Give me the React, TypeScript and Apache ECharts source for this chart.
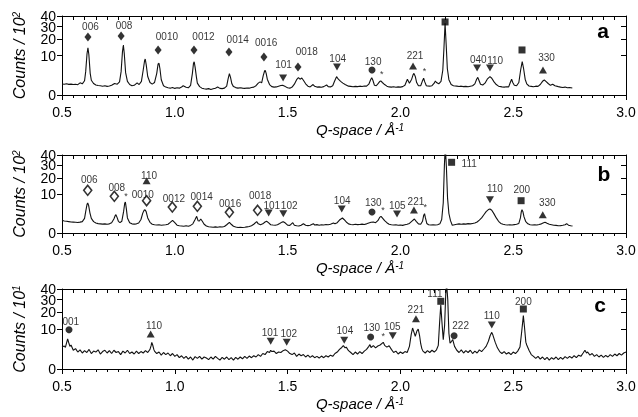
import React, { useEffect, useRef } from 'react';
import * as echarts from 'echarts';

const FONT = '"Liberation Sans", Arial, Helvetica, sans-serif';

// y tick values (counts, shown on a square-root scale)
const yTickValues = [0, 10, 20, 30, 40];
const yLabelSetA = [0, 10, 30];
const yLabelSetB = [20, 40];
const qMin = 0.5;
const qMax = 3.0;
const qStep = 0.5;

// ---- Panel a : [Q, counts / 10^2]
const spectrumA: [number, number][] = [
  [0.50, 0.78], [0.51, 0.74], [0.52, 0.80], [0.53, 0.72], [0.54, 0.76], [0.55, 0.70], [0.56, 0.74], [0.57, 0.68],
  [0.58, 0.95], [0.59, 0.80], [0.60, 1.3], [0.605, 3.5], [0.611, 11.0], [0.615, 14.3], [0.619, 10.5], [0.625, 3.0],
  [0.63, 1.4], [0.64, 0.85], [0.65, 0.64], [0.66, 0.58], [0.67, 0.55], [0.68, 0.50], [0.69, 0.55], [0.70, 0.48],
  [0.71, 0.52], [0.72, 0.60], [0.733, 0.85], [0.745, 0.75], [0.755, 1.1], [0.762, 3.5], [0.768, 12.0], [0.772, 16.0],
  [0.776, 11.0], [0.782, 3.2], [0.79, 1.2], [0.80, 0.70], [0.81, 0.55], [0.82, 0.60], [0.833, 0.95], [0.842, 0.70],
  [0.852, 1.2], [0.86, 4.0], [0.866, 7.5], [0.869, 8.3], [0.873, 6.0], [0.88, 2.2], [0.89, 1.0], [0.90, 0.75],
  [0.91, 1.0], [0.92, 3.0], [0.926, 6.2], [0.930, 6.44], [0.934, 4.5], [0.94, 1.5], [0.95, 0.55], [0.96, 0.40],
  [0.97, 0.33], [0.98, 0.30], [0.99, 0.36], [1.00, 0.28], [1.01, 0.33], [1.02, 0.30], [1.03, 0.40], [1.037, 0.55],
  [1.05, 0.38], [1.06, 0.33], [1.07, 0.60], [1.078, 3.0], [1.083, 6.5], [1.086, 7.1], [1.09, 5.0], [1.096, 2.0],
  [1.10, 0.90], [1.11, 0.45], [1.12, 0.30], [1.13, 0.25], [1.14, 0.22], [1.15, 0.26], [1.16, 0.20], [1.17, 0.25],
  [1.18, 0.30], [1.19, 0.40], [1.20, 0.28], [1.21, 0.26], [1.22, 0.30], [1.23, 0.50], [1.236, 1.6], [1.242, 2.9],
  [1.247, 2.0], [1.253, 0.8], [1.26, 0.45], [1.27, 0.35], [1.28, 0.30], [1.29, 0.34], [1.30, 0.30], [1.31, 0.28],
  [1.32, 0.32], [1.33, 0.30], [1.34, 0.36], [1.35, 0.40], [1.36, 0.55], [1.37, 0.90], [1.378, 1.10], [1.385, 0.95],
  [1.392, 2.4], [1.398, 3.7], [1.401, 3.9], [1.405, 3.0], [1.41, 1.6], [1.42, 0.70], [1.43, 0.45], [1.44, 0.40],
  [1.45, 0.42], [1.46, 0.50], [1.47, 0.58], [1.478, 0.60], [1.49, 0.45], [1.50, 0.33], [1.51, 0.30], [1.52, 0.40],
  [1.53, 0.75], [1.54, 1.5], [1.548, 1.92], [1.555, 1.6], [1.563, 1.85], [1.57, 1.4], [1.58, 0.80], [1.59, 0.50],
  [1.60, 0.42], [1.613, 0.70], [1.62, 0.48], [1.63, 0.40], [1.64, 0.42], [1.65, 0.38], [1.66, 0.45], [1.673, 0.64],
  [1.68, 0.45], [1.69, 0.42], [1.70, 0.55], [1.708, 1.2], [1.717, 2.15], [1.725, 1.6], [1.735, 1.2], [1.745, 0.9],
  [1.755, 0.7], [1.77, 0.50], [1.78, 0.48], [1.79, 0.44], [1.80, 0.48], [1.81, 0.45], [1.82, 0.50], [1.83, 0.46],
  [1.84, 0.52], [1.85, 0.50], [1.86, 0.75], [1.868, 1.5], [1.873, 1.92], [1.878, 1.4], [1.885, 0.6], [1.893, 0.55],
  [1.90, 0.80], [1.908, 1.15], [1.913, 1.26], [1.92, 1.0], [1.93, 0.70], [1.94, 0.50], [1.95, 0.42], [1.96, 0.40],
  [1.97, 0.44], [1.98, 0.38], [1.99, 0.42], [2.00, 0.40], [2.01, 0.45], [2.02, 0.60], [2.031, 1.58], [2.04, 0.90],
  [2.05, 1.6], [2.056, 2.6], [2.060, 3.0], [2.066, 2.2], [2.072, 1.0], [2.08, 0.55], [2.09, 0.55], [2.097, 1.2],
  [2.103, 1.79], [2.108, 1.1], [2.115, 0.55], [2.12, 0.52], [2.13, 0.50], [2.14, 0.55], [2.15, 0.90], [2.155, 1.26],
  [2.16, 1.0], [2.17, 0.80], [2.18, 1.2], [2.188, 4.0], [2.193, 14], [2.198, 33], [2.203, 16], [2.208, 4.5],
  [2.215, 1.5], [2.225, 0.70], [2.235, 0.55], [2.25, 0.50], [2.26, 0.46], [2.27, 0.50], [2.28, 0.45], [2.29, 0.48],
  [2.30, 0.44], [2.31, 0.50], [2.32, 0.55], [2.33, 0.80], [2.338, 1.6], [2.343, 2.0], [2.348, 1.4], [2.355, 0.75],
  [2.365, 0.64], [2.375, 0.9], [2.385, 1.6], [2.397, 2.15], [2.405, 1.8], [2.415, 1.1], [2.425, 0.70], [2.435, 0.50],
  [2.45, 0.42], [2.46, 0.40], [2.47, 0.44], [2.48, 0.42], [2.487, 1.0], [2.493, 1.58], [2.498, 1.0], [2.505, 0.6],
  [2.515, 0.55], [2.525, 1.0], [2.533, 4.0], [2.540, 7.1], [2.546, 4.5], [2.553, 1.6], [2.56, 0.80], [2.57, 0.52],
  [2.58, 0.48], [2.59, 0.44], [2.60, 0.50], [2.61, 0.48], [2.62, 0.70], [2.63, 1.2], [2.638, 1.44], [2.645, 1.2],
  [2.655, 0.85], [2.665, 0.6], [2.675, 0.75], [2.685, 0.55], [2.70, 0.45], [2.71, 0.40], [2.72, 0.36], [2.73, 0.40],
  [2.74, 0.33], [2.75, 0.36], [2.762, 0.31],
];

const marksA: [string, number, number][] = [
  ['diamond', 0.615, 21.6], ['diamond', 0.762, 22.3], ['diamond', 0.926, 13.0], ['diamond', 1.085, 13.0],
  ['diamond', 1.240, 11.85], ['diamond', 1.395, 9.25], ['down', 1.480, 1.85], ['diamond', 1.546, 5.0],
  ['down', 1.719, 5.0], ['circle', 1.874, 4.0], ['up', 2.056, 5.4], ['square', 2.198, 34.2],
  ['down', 2.340, 4.67], ['down', 2.397, 4.67], ['square', 2.539, 13.0], ['up', 2.632, 4.0],
];
const tagsA: [string, number, number][] = [
  ['006', 0.626, 30.5], ['008', 0.775, 31.4], ['0010', 0.965, 21.6], ['0012', 1.127, 21.6],
  ['0014', 1.279, 19.4], ['0016', 1.405, 18.0], ['101', 1.482, 5.9], ['0018', 1.585, 12.2],
  ['104', 1.722, 8.77], ['130', 1.879, 7.4], ['221', 2.065, 9.75], ['040', 2.345, 8.0],
  ['110', 2.42, 7.7], ['330', 2.648, 9.25],
];
const starsA: [number, number][] = [[1.917, 2.83], [2.107, 3.7]];

// ---- Panel b : [Q, counts / 10^2]
const spectrumB: [number, number][] = [
  [0.50, 1.06], [0.51, 0.95], [0.52, 0.90], [0.53, 0.85], [0.54, 0.80], [0.55, 0.78], [0.56, 0.75], [0.57, 0.72],
  [0.58, 0.78], [0.59, 0.85], [0.60, 1.4], [0.605, 3.0], [0.611, 5.4], [0.614, 5.9], [0.618, 5.0], [0.624, 2.6],
  [0.63, 1.4], [0.64, 0.85], [0.65, 0.65], [0.66, 0.58], [0.67, 0.55], [0.68, 0.52], [0.69, 0.55], [0.70, 0.50],
  [0.71, 0.55], [0.72, 0.70], [0.73, 1.3], [0.736, 2.0], [0.739, 2.2], [0.744, 1.6], [0.75, 0.90], [0.757, 0.70],
  [0.765, 0.9], [0.773, 3.0], [0.778, 5.8], [0.781, 6.3], [0.785, 4.0], [0.79, 1.5], [0.80, 0.70], [0.81, 0.55],
  [0.82, 0.52], [0.83, 0.55], [0.84, 0.65], [0.85, 1.2], [0.858, 2.6], [0.864, 3.4], [0.868, 3.57], [0.873, 3.0],
  [0.88, 1.5], [0.89, 0.75], [0.90, 0.50], [0.91, 0.45], [0.92, 0.42], [0.93, 0.45], [0.94, 0.40], [0.95, 0.42],
  [0.96, 0.44], [0.97, 0.50], [0.98, 0.75], [0.99, 1.06], [1.00, 0.70], [1.01, 0.40], [1.02, 0.34], [1.03, 0.32],
  [1.04, 0.30], [1.05, 0.34], [1.06, 0.30], [1.07, 0.38], [1.08, 0.55], [1.09, 1.2], [1.097, 1.83], [1.103, 1.0],
  [1.109, 0.95], [1.115, 1.29], [1.122, 0.9], [1.13, 0.50], [1.14, 0.32], [1.15, 0.26], [1.16, 0.24], [1.17, 0.22],
  [1.18, 0.25], [1.19, 0.22], [1.20, 0.26], [1.21, 0.24], [1.22, 0.28], [1.23, 0.45], [1.242, 0.75], [1.25, 0.50],
  [1.26, 0.30], [1.27, 0.24], [1.28, 0.20], [1.29, 0.22], [1.30, 0.20], [1.31, 0.22], [1.32, 0.25], [1.33, 0.28],
  [1.34, 0.35], [1.35, 0.50], [1.363, 0.84], [1.37, 0.55], [1.38, 0.45], [1.39, 0.55], [1.40, 0.80], [1.407, 0.90],
  [1.415, 0.70], [1.425, 0.45], [1.435, 0.42], [1.445, 0.40], [1.455, 0.45], [1.465, 0.60], [1.475, 0.78], [1.481, 0.84],
  [1.49, 0.65], [1.50, 0.40], [1.51, 0.38], [1.523, 0.70], [1.53, 0.40], [1.54, 0.34], [1.55, 0.32], [1.56, 0.40],
  [1.57, 0.57], [1.58, 0.40], [1.59, 0.36], [1.60, 0.40], [1.614, 0.57], [1.62, 0.42], [1.63, 0.46], [1.64, 0.40],
  [1.65, 0.45], [1.66, 0.42], [1.67, 0.48], [1.68, 0.44], [1.69, 0.50], [1.703, 0.65], [1.71, 0.55], [1.72, 0.70],
  [1.73, 1.1], [1.743, 1.48], [1.75, 1.2], [1.76, 0.80], [1.77, 0.55], [1.78, 0.48], [1.79, 0.45], [1.80, 0.50],
  [1.81, 0.46], [1.82, 0.48], [1.83, 0.52], [1.84, 0.48], [1.85, 0.55], [1.86, 0.65], [1.87, 0.75], [1.88, 0.80],
  [1.89, 0.70], [1.90, 1.0], [1.908, 1.6], [1.914, 1.83], [1.92, 1.5], [1.93, 1.0], [1.94, 0.70], [1.95, 0.50],
  [1.96, 0.45], [1.97, 0.42], [1.98, 0.45], [1.99, 0.40], [2.00, 0.42], [2.01, 0.38], [2.02, 0.45], [2.03, 0.50],
  [2.04, 0.60], [2.05, 0.90], [2.062, 1.29], [2.07, 0.90], [2.08, 0.55], [2.09, 0.50], [2.098, 0.9], [2.103, 2.0],
  [2.107, 2.45], [2.111, 1.5], [2.117, 0.6], [2.125, 0.45], [2.135, 0.42], [2.145, 0.45], [2.155, 0.42], [2.165, 0.45],
  [2.175, 0.55], [2.183, 1.2], [2.19, 6.0], [2.195, 30], [2.199, 50], [2.204, 28], [2.209, 8], [2.215, 2.5],
  [2.222, 1.0], [2.23, 0.40], [2.24, 0.45], [2.25, 0.50], [2.26, 0.55], [2.27, 0.50], [2.28, 0.55], [2.29, 0.52],
  [2.30, 0.58], [2.31, 0.55], [2.32, 0.60], [2.33, 0.65], [2.34, 0.80], [2.35, 1.1], [2.36, 1.5], [2.37, 2.2],
  [2.38, 3.0], [2.39, 3.6], [2.397, 3.79], [2.405, 3.4], [2.415, 2.4], [2.425, 1.5], [2.435, 0.90], [2.445, 0.60],
  [2.455, 0.50], [2.465, 0.45], [2.475, 0.42], [2.485, 0.45], [2.495, 0.42], [2.505, 0.46], [2.515, 0.50], [2.525, 0.60],
  [2.532, 1.5], [2.536, 3.0], [2.539, 3.57], [2.543, 3.0], [2.548, 1.7], [2.555, 0.9], [2.565, 0.55], [2.575, 0.45],
  [2.585, 0.42], [2.595, 0.45], [2.605, 0.42], [2.615, 0.48], [2.625, 0.55], [2.635, 0.70], [2.641, 0.75], [2.65, 0.62],
  [2.66, 0.50], [2.67, 0.45], [2.68, 0.40], [2.69, 0.38], [2.70, 0.34], [2.71, 0.36], [2.72, 0.40], [2.73, 0.45],
  [2.737, 0.57], [2.745, 0.40], [2.755, 0.34], [2.763, 0.32],
];

const marksB: [string, number, number][] = [
  ['hollow', 0.614, 11.99], ['hollow', 0.732, 8.86], ['up', 0.875, 17.98], ['hollow', 0.875, 6.86],
  ['hollow', 0.989, 4.44], ['hollow', 1.100, 4.69], ['hollow', 1.242, 2.82], ['hollow', 1.367, 3.39],
  ['down', 1.416, 2.63], ['down', 1.481, 2.45], ['down', 1.740, 3.79], ['circle', 1.874, 2.90],
  ['down', 1.985, 2.37], ['up', 2.060, 3.48], ['square', 2.227, 32.86], ['down', 2.397, 7.29],
  ['square', 2.535, 6.86], ['up', 2.631, 2.20],
];
const tagsB: [string, number, number][] = [
  ['006', 0.621, 18.68], ['008', 0.743, 13.73], ['110', 0.886, 21.59], ['0010', 0.858, 9.64],
  ['0012', 0.996, 7.92], ['0014', 1.119, 8.66], ['0016', 1.245, 5.53], ['0018', 1.378, 9.15],
  ['101', 1.43, 5.04], ['102', 1.507, 5.04], ['104', 1.742, 6.86], ['130', 1.880, 5.92],
  ['105', 1.986, 5.15], ['221', 2.069, 6.44], ['111', 2.305, 31.57], ['110', 2.419, 12.73],
  ['200', 2.538, 12.33], ['330', 2.651, 5.92],
];
const starsB: [number, number][] = [[0.784, 8.9], [1.923, 3.45], [2.110, 4.55]];

// ---- Panel c : [Q, counts / 10^1]
const spectrumC: [number, number][] = [
  [0.50, 3.0], [0.51, 3.3], [0.515, 2.9], [0.52, 4.2], [0.525, 5.7], [0.53, 4.3], [0.535, 3.2], [0.54, 3.6],
  [0.55, 2.2], [0.56, 2.6], [0.57, 1.8], [0.58, 2.3], [0.59, 1.6], [0.60, 2.1], [0.61, 1.7], [0.62, 2.4],
  [0.63, 1.5], [0.64, 2.0], [0.65, 1.8], [0.66, 2.3], [0.67, 1.4], [0.68, 1.9], [0.69, 2.2], [0.70, 1.6],
  [0.71, 2.1], [0.72, 1.5], [0.73, 2.2], [0.74, 1.7], [0.75, 1.9], [0.76, 1.3], [0.77, 2.0], [0.78, 1.6],
  [0.79, 2.2], [0.80, 1.5], [0.81, 1.8], [0.82, 1.4], [0.83, 2.0], [0.84, 1.5], [0.85, 1.9], [0.86, 1.6],
  [0.87, 2.1], [0.88, 1.7], [0.89, 2.4], [0.895, 3.4], [0.898, 4.45], [0.902, 3.6], [0.907, 2.4], [0.91, 2.0],
  [0.92, 1.5], [0.93, 1.8], [0.94, 1.2], [0.95, 1.7], [0.96, 1.3], [0.97, 1.6], [0.98, 1.1], [0.99, 1.5],
  [1.00, 1.0], [1.01, 1.3], [1.02, 0.8], [1.03, 1.1], [1.04, 0.7], [1.05, 1.0], [1.06, 0.6], [1.07, 0.9],
  [1.08, 0.5], [1.09, 0.95], [1.10, 0.7], [1.11, 1.0], [1.12, 0.6], [1.13, 0.9], [1.14, 0.75], [1.15, 0.55],
  [1.16, 0.9], [1.17, 0.6], [1.18, 1.0], [1.19, 0.7], [1.20, 0.5], [1.21, 0.85], [1.22, 0.6], [1.23, 0.9],
  [1.24, 0.55], [1.25, 0.8], [1.26, 0.5], [1.27, 0.85], [1.28, 0.6], [1.29, 0.9], [1.30, 0.65], [1.31, 1.0],
  [1.32, 0.7], [1.33, 1.05], [1.34, 0.8], [1.35, 1.1], [1.36, 0.9], [1.37, 1.3], [1.38, 1.0], [1.39, 1.5],
  [1.40, 1.3], [1.41, 1.9], [1.42, 1.7], [1.425, 2.2], [1.43, 1.9], [1.44, 2.0], [1.45, 1.5], [1.46, 1.8],
  [1.47, 1.7], [1.48, 2.1], [1.49, 2.33], [1.50, 2.0], [1.51, 1.5], [1.52, 1.3], [1.53, 1.6], [1.54, 1.0],
  [1.55, 1.4], [1.56, 1.1], [1.57, 1.3], [1.58, 0.9], [1.59, 1.2], [1.60, 0.85], [1.61, 1.1], [1.62, 0.8],
  [1.63, 1.0], [1.64, 0.75], [1.65, 1.05], [1.66, 0.8], [1.67, 1.1], [1.68, 0.9], [1.69, 1.2], [1.70, 1.0],
  [1.71, 1.5], [1.72, 1.8], [1.73, 2.4], [1.74, 2.9], [1.747, 3.4], [1.755, 2.8], [1.76, 3.0], [1.77, 2.1],
  [1.78, 1.7], [1.79, 1.3], [1.80, 1.8], [1.81, 1.4], [1.82, 1.9], [1.83, 1.5], [1.84, 2.0], [1.85, 2.4],
  [1.86, 3.2], [1.865, 3.7], [1.87, 2.9], [1.88, 3.4], [1.89, 2.8], [1.90, 3.3], [1.91, 3.6], [1.924, 4.45],
  [1.93, 3.5], [1.94, 3.0], [1.95, 3.4], [1.96, 2.4], [1.97, 1.7], [1.98, 2.0], [1.99, 1.4], [2.00, 1.8],
  [2.01, 1.5], [2.02, 1.9], [2.03, 1.7], [2.04, 3.2], [2.048, 7.5], [2.054, 10.5], [2.06, 8.5], [2.066, 6.7],
  [2.073, 9.0], [2.079, 10.0], [2.085, 7.0], [2.09, 4.0], [2.095, 2.6], [2.10, 2.0], [2.11, 1.6], [2.12, 2.1],
  [2.13, 1.7], [2.14, 2.2], [2.15, 1.8], [2.16, 2.3], [2.168, 3.5], [2.174, 14], [2.179, 25.8], [2.184, 14],
  [2.19, 5.4], [2.196, 12], [2.201, 35], [2.205, 45], [2.21, 30], [2.215, 8], [2.22, 4.2], [2.227, 4.8],
  [2.232, 5.4], [2.24, 3.2], [2.25, 2.2], [2.26, 1.7], [2.27, 2.3], [2.28, 1.6], [2.29, 2.1], [2.30, 1.7],
  [2.31, 2.2], [2.32, 1.5], [2.33, 2.0], [2.34, 1.6], [2.35, 2.3], [2.36, 1.9], [2.37, 2.5], [2.38, 3.2],
  [2.39, 4.8], [2.398, 7.0], [2.405, 8.4], [2.41, 7.2], [2.42, 4.5], [2.43, 2.8], [2.44, 1.9], [2.45, 1.5],
  [2.46, 1.9], [2.47, 1.4], [2.48, 1.7], [2.49, 1.3], [2.50, 1.8], [2.51, 1.5], [2.52, 2.0], [2.53, 3.0],
  [2.538, 9.0], [2.545, 17.8], [2.55, 11], [2.556, 4.5], [2.56, 3.6], [2.57, 2.2], [2.58, 1.3], [2.59, 1.0],
  [2.60, 0.7], [2.61, 1.0], [2.62, 0.6], [2.63, 0.9], [2.64, 0.55], [2.65, 0.85], [2.66, 0.5], [2.67, 0.8],
  [2.68, 0.6], [2.69, 0.9], [2.70, 0.55], [2.71, 0.85], [2.72, 0.6], [2.73, 0.95], [2.74, 0.7], [2.75, 1.0],
  [2.76, 0.75], [2.77, 1.1], [2.78, 0.8], [2.79, 1.2], [2.80, 1.0], [2.81, 1.6], [2.818, 2.2], [2.825, 1.6],
  [2.83, 1.8], [2.84, 1.2], [2.85, 1.5], [2.86, 1.0], [2.87, 1.3], [2.88, 0.9], [2.89, 1.2], [2.90, 0.85],
  [2.91, 1.15], [2.92, 0.9], [2.93, 1.3], [2.94, 1.0], [2.95, 1.4], [2.96, 1.1], [2.97, 1.5], [2.98, 1.2],
  [2.99, 1.6], [3.00, 1.8],
];

const marksC: [string, number, number][] = [
  ['circle', 0.531, 9.65], ['up', 0.893, 7.66], ['down', 1.425, 4.8], ['down', 1.496, 4.46],
  ['down', 1.751, 5.15], ['circle', 1.868, 6.4], ['down', 1.966, 6.93], ['up', 2.069, 15.81],
  ['square', 2.179, 28.65], ['circle', 2.238, 6.93], ['down', 2.405, 12.1], ['square', 2.545, 22.5],
];
const tagsC: [string, number, number][] = [
  ['001', 0.539, 14.22], ['110', 0.908, 12.1], ['101', 1.422, 8.42], ['102', 1.505, 8.1],
  ['104', 1.754, 9.36], ['130', 1.873, 10.87], ['105', 1.964, 11.4], ['221', 2.069, 21.98],
  ['111', 2.153, 35.44], ['222', 2.267, 11.94], ['110', 2.405, 17.76], ['200', 2.545, 28.65],
];
const starsC: [number, number][] = [[1.924, 6.93]];

const panels = [
  { spectrum: spectrumA, marks: marksA, tags: tagsA, stars: starsA, power: '2', letter: 'a' },
  { spectrum: spectrumB, marks: marksB, tags: tagsB, stars: starsB, power: '2', letter: 'b' },
  { spectrum: spectrumC, marks: marksC, tags: tagsC, stars: starsC, power: '1', letter: 'c' },
];

// layout (pixels)
const gridBoxes = [
  { top: 16, height: 79 },
  { top: 155, height: 78 },
  { top: 289, height: 80 },
];
const letterPos = [
  { x: 603, y: 30 },
  { x: 604, y: 173 },
  { x: 600, y: 304 },
];

const symbolStyles: Record<string, any> = {
  diamond: { symbol: 'diamond', symbolSize: [7, 9], itemStyle: { color: '#000' } },
  hollow: { symbol: 'diamond', symbolSize: [8, 10], itemStyle: { color: '#fff', borderColor: '#000', borderWidth: 1.6 } },
  up: { symbol: 'triangle', symbolSize: [8, 7], itemStyle: { color: '#000' } },
  down: { symbol: 'triangle', symbolRotate: 180, symbolSize: [8, 7], itemStyle: { color: '#000' } },
  circle: { symbol: 'circle', symbolSize: 7, itemStyle: { color: '#000' } },
  square: { symbol: 'rect', symbolSize: 7, itemStyle: { color: '#000' } },
};

const sq = (v: number) => Math.sqrt(v);

function buildOption() {
  const tickVals = yTickValues.map(sq);
  const grid: any[] = [];
  const xAxis: any[] = [];
  const yAxis: any[] = [];
  const series: any[] = [];
  const graphic: any[] = [];
  const yLabelStyle = {
    show: true, formatter: (v: number) => String(Math.round(v * v)),
    fontSize: 14, color: '#000', fontFamily: FONT, margin: 6,
  };

  panels.forEach((p, i) => {
    grid.push({
      left: 62, width: 564, top: gridBoxes[i].top, height: gridBoxes[i].height,
      containLabel: false, outerBoundsMode: 'none',
    });
    const axisLine = { show: true, onZero: false, lineStyle: { color: '#000', width: 1 } };
    xAxis.push({
      type: 'value', gridIndex: i, position: 'bottom', min: qMin, max: qMax, interval: qStep,
      axisLine,
      axisTick: { show: true, inside: false, length: 5, lineStyle: { color: '#000' } },
      minorTick: { show: true, splitNumber: 10, length: 3, lineStyle: { color: '#000' } },
      axisLabel: {
        formatter: (v: number) => v.toFixed(1), fontSize: 14, color: '#000', fontFamily: FONT, margin: 10,
        showMinLabel: true, showMaxLabel: true,
      },
      splitLine: { show: false },
      minorSplitLine: { show: false },
      name: 'Q-space / Å{sup|-1}',
      nameLocation: 'middle',
      nameGap: 27,
      nameTextStyle: {
        fontSize: 15, fontStyle: 'italic', color: '#000', fontFamily: FONT, padding: [0, 0, 0, 32],
        rich: { sup: { fontSize: 10, fontStyle: 'italic', color: '#000', fontFamily: FONT, verticalAlign: 'top' } },
      },
    });
    xAxis.push({
      type: 'value', gridIndex: i, position: 'top', min: qMin, max: qMax, interval: qStep,
      axisLine,
      axisTick: { show: true, inside: true, length: 4, lineStyle: { color: '#000' } },
      minorTick: { show: true, splitNumber: 10, length: 4, lineStyle: { color: '#000' } },
      axisLabel: { show: false },
      splitLine: { show: false },
    });
    // main left axis: line, all ticks, labels 0 / 10 / 30, title
    yAxis.push({
      type: 'value', gridIndex: i, position: 'left', min: 0, max: sq(40),
      axisLine,
      axisTick: { show: true, inside: false, length: 5, customValues: tickVals, lineStyle: { color: '#000' } },
      axisLabel: { ...yLabelStyle, customValues: yLabelSetA.map(sq) },
      splitLine: { show: false },
      name: 'Counts / 10{sup|' + p.power + '}',
      nameLocation: 'middle',
      nameGap: 35,
      nameTextStyle: {
        fontSize: 16, fontStyle: 'italic', color: '#000', fontFamily: FONT,
        rich: { sup: { fontSize: 10, fontStyle: 'italic', color: '#000', fontFamily: FONT, verticalAlign: 'top' } },
      },
    });
    // right mirror axis: ticks only
    yAxis.push({
      type: 'value', gridIndex: i, position: 'right', min: 0, max: sq(40),
      axisLine,
      axisTick: { show: true, inside: true, length: 5, customValues: tickVals, lineStyle: { color: '#000' } },
      axisLabel: { show: false },
      splitLine: { show: false },
    });
    // second left axis: labels 20 / 40 only (avoids the tight-label hiding)
    yAxis.push({
      type: 'value', gridIndex: i, position: 'left', min: 0, max: sq(40),
      axisLine: { show: false, onZero: false },
      axisTick: { show: false },
      axisLabel: { ...yLabelStyle, customValues: yLabelSetB.map(sq) },
      splitLine: { show: false },
    });

    const xi = i * 2;
    const yi = i * 3;

    // tags (text labels)
    series.push({
      type: 'scatter', xAxisIndex: xi, yAxisIndex: yi, silent: true, z: 2,
      symbol: 'circle', symbolSize: 1, itemStyle: { color: 'rgba(0,0,0,0)' },
      data: p.tags.map(([t, q, v]) => ({ name: t, value: [q, sq(v)] })),
      label: {
        show: true, position: 'inside', formatter: (d: any) => d.name,
        fontSize: 10, color: '#000', fontFamily: FONT, textBorderWidth: 0,
      },
    });
    series.push({
      type: 'scatter', xAxisIndex: xi, yAxisIndex: yi, silent: true, z: 2,
      symbol: 'circle', symbolSize: 1, itemStyle: { color: 'rgba(0,0,0,0)' },
      data: p.stars.map(([q, v]) => ({ name: '*', value: [q, sq(v)] })),
      label: {
        show: true, position: 'inside', formatter: '*',
        fontSize: 9, color: '#000', fontFamily: FONT, textBorderWidth: 0,
      },
    });

    // line
    series.push({
      type: 'line', xAxisIndex: xi, yAxisIndex: yi, silent: true, z: 3,
      showSymbol: false, symbol: 'none', clip: true,
      lineStyle: { color: '#111', width: 1.1 },
      data: p.spectrum.map(([q, v]) => [q, sq(v)]),
    });

    // symbols
    Object.keys(symbolStyles).forEach((kind) => {
      const pts = p.marks.filter((m) => m[0] === kind);
      if (!pts.length) return;
      series.push({
        type: 'scatter', xAxisIndex: xi, yAxisIndex: yi, silent: true, z: 4,
        ...symbolStyles[kind],
        data: pts.map(([, q, v]) => [q, sq(v)]),
      });
    });

    graphic.push({
      type: 'text', x: letterPos[i].x, y: letterPos[i].y, silent: true,
      style: {
        text: p.letter, fontSize: 21, fontWeight: 'bold', fontFamily: FONT,
        fill: '#000', align: 'center', verticalAlign: 'middle',
      },
    });
  });

  return {
    animation: false,
    backgroundColor: '#fff',
    grid, xAxis, yAxis, series, graphic,
  };
}

export default function App() {
  const ref = useRef<HTMLDivElement>(null);
  useEffect(() => {
    document.body.style.margin = '0';
    if (!ref.current) return;
    const chart = echarts.init(ref.current, undefined, { renderer: 'svg' });
    chart.setOption(buildOption());
    return () => chart.dispose();
  }, []);
  return (
    <div
      ref={ref}
      style={{
        position: 'absolute', left: 0, top: 0, width: 638, height: 417,
        background: '#fff', filter: 'grayscale(1)',
      }}
    />
  );
}
